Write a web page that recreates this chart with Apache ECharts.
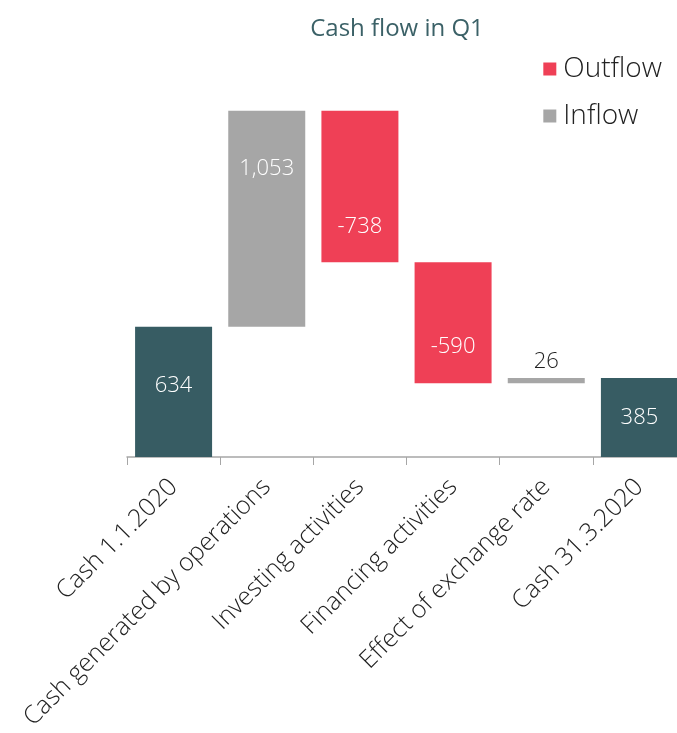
<!DOCTYPE html>
<html><head><meta charset="utf-8">
<script src="https://cdn.jsdelivr.net/npm/echarts@6/dist/echarts.min.js"></script>
<style>html,body{margin:0;padding:0;background:#fff}#c{width:677px;height:733px}</style>
</head><body><div id="c"></div>
<script>
var categories = ['Cash 1.1.2020','Cash generated by operations','Investing activities','Financing activities','Effect of exchange rate','Cash 31.3.2020'];
var totals = [634, null, null, null, null, 385];
var inflow = [null, 1053, null, null, 26, null];
var outflow = [null, null, 738, 590, null, null];

var base = [];
var run = 0;
for (var i = 0; i < categories.length; i++) {
  if (totals[i] != null) { base.push(0); run = totals[i]; }
  else if (inflow[i] != null) { base.push(run); run += inflow[i]; }
  else { run -= outflow[i]; base.push(run); }
}
function fmt(v){ return v.toLocaleString('en-US'); }
var FONT = 'Open Sans';
var labelOffsets = {1:[0,-50], 2:[0,40], 3:[0,24], 0:[0,-6], 5:[0,0]};
function mk(arr){
  return arr.map(function(v,i){
    if (v == null) return '-';
    return {value: v, label: {offset: labelOffsets[i] || [0,0]}};
  });
}
var inf = mk(inflow);
inf[4] = {value: inflow[4], label: {position: 'top', color: '#222', distance: 5}};
var chart = echarts.init(document.getElementById('c'));
var lbl = {show: true, position: 'inside', color: '#fff', fontSize: 22, fontFamily: FONT, fontWeight: 300};
chart.setOption({
  animation: false,
  textStyle: {fontFamily: FONT},
  title: {text: 'Cash flow in Q1', left: 392, top: 12, textAlign: 'center',
    textStyle: {fontFamily: FONT, fontSize: 24, fontWeight: 'normal', color: '#3b6167'}},
  legend: {orient: 'vertical', right: 10, top: 50, itemWidth: 13, itemHeight: 13, itemGap: 19,
    icon: 'rect', data: ['Outflow','Inflow'],
    textStyle: {fontFamily: FONT, fontSize: 28, color: '#222', fontWeight: 300, padding: [0,0,0,2]}},
  grid: {left: 127, top: 108, bottom: 276, right: -9, containLabel: false, outerBoundsMode: 'none'},
  xAxis: {type: 'category', data: categories,
    axisLine: {lineStyle: {color: '#a6a6a6', width: 1.5}},
    axisTick: {show: true, alignWithLabel: false, length: 8, lineStyle: {color: '#a6a6a6'}},
    axisLabel: {rotate: 45, interval: 0, margin: 26, fontSize: 25, color: '#222', fontFamily: FONT, fontWeight: 300}},
  yAxis: {type: 'value', min: 0, max: 1700, show: false, splitLine: {show: false}},
  series: [
    {name: 'base', type: 'bar', stack: 'w', data: base, barWidth: 77,
      itemStyle: {color: 'transparent'}, silent: true},
    {name: 'Total', type: 'bar', stack: 'w', data: mk(totals), barWidth: 77,
      itemStyle: {color: '#375c63'},
      label: Object.assign({}, lbl, {formatter: function(p){return fmt(p.value);}})},
    {name: 'Inflow', type: 'bar', stack: 'w', data: inf, barWidth: 77,
      itemStyle: {color: '#a6a6a6'},
      label: Object.assign({}, lbl, {formatter: function(p){return fmt(p.value);}})},
    {name: 'Outflow', type: 'bar', stack: 'w', data: mk(outflow), barWidth: 77,
      itemStyle: {color: '#ef4056'},
      label: Object.assign({}, lbl, {formatter: function(p){return '-' + fmt(p.value);}})}
  ]
});
</script></body></html>
